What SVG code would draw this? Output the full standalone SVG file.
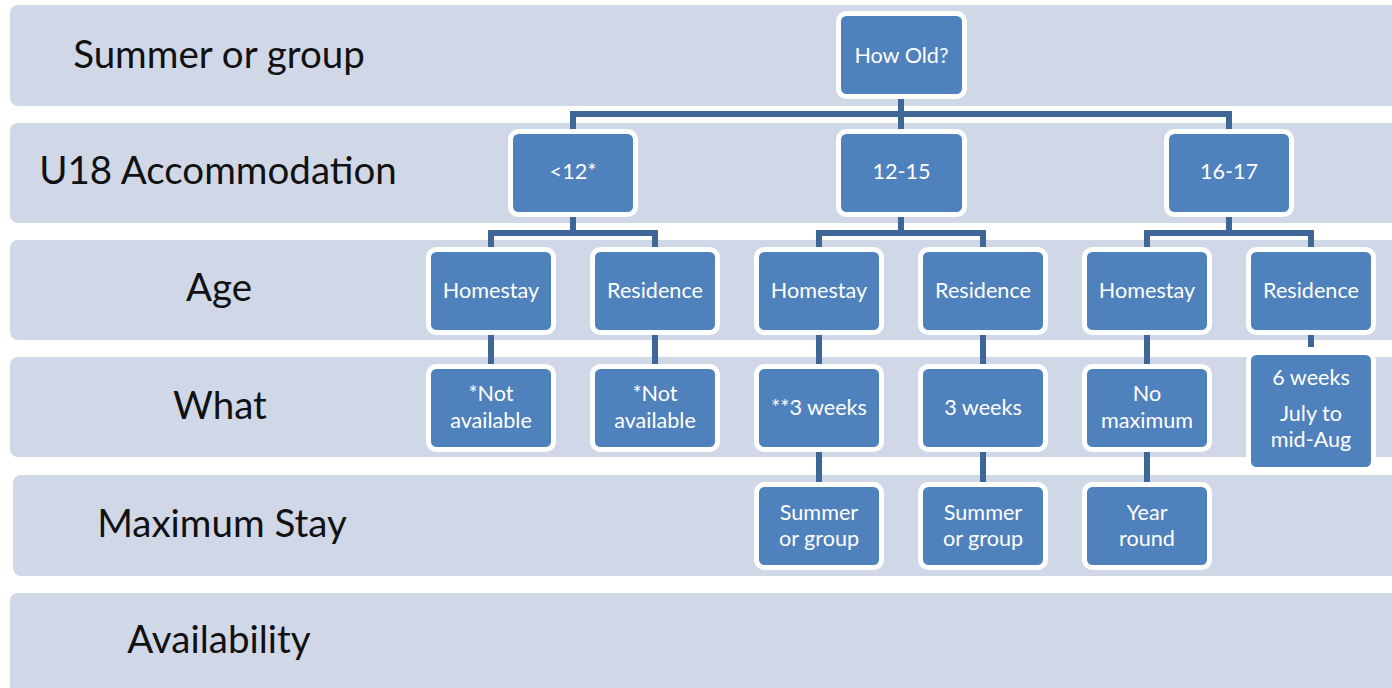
<svg xmlns="http://www.w3.org/2000/svg" width="1392" height="688" viewBox="0 0 1392 688">
<style>
.band{fill:#d0d8e8}
.lbl{font-family:Lato,"Liberation Sans",sans-serif;font-size:38.5px;fill:#111;text-anchor:middle}
.box{fill:#4f81bd;stroke:#fff;stroke-width:5}
.nt{font-family:Lato,"Liberation Sans",sans-serif;font-size:21.6px;fill:#fff;text-anchor:middle}
.con{fill:none;stroke:#3e6797;stroke-width:6;stroke-linejoin:miter}
</style>
<rect width="1392" height="688" fill="#fff"/>
<g id="bands">
<rect class="band" x="10" y="5" width="1400" height="101" rx="8"/>
<rect class="band" x="10" y="123" width="1400" height="100" rx="8"/>
<rect class="band" x="10" y="240" width="1400" height="100" rx="8"/>
<rect class="band" x="10" y="357" width="1400" height="100" rx="8"/>
<rect class="band" x="13" y="475" width="1400" height="101" rx="8"/>
<rect class="band" x="10" y="593" width="1400" height="110" rx="8"/>
</g>
<g id="row-labels">
<text class="lbl" x="219" y="68">Summer or group</text>
<text class="lbl" x="218" y="184">U18 Accommodation</text>
<text class="lbl" x="219" y="301">Age</text>
<text class="lbl" x="220" y="419">What</text>
<text class="lbl" x="222" y="537">Maximum Stay</text>
<text class="lbl" x="219" y="653">Availability</text>
</g>
<g id="connectors">
<path class="con" d="M901 94 V134"/>
<path class="con" d="M573 134 V114 H1229 V134"/>
<path class="con" d="M573 212 V233"/>
<path class="con" d="M491 252 V233 H655 V252"/>
<path class="con" d="M901 212 V233"/>
<path class="con" d="M819 252 V233 H983 V252"/>
<path class="con" d="M1229 212 V233"/>
<path class="con" d="M1147 252 V233 H1311 V252"/>
<path class="con" d="M491 330 V369"/>
<path class="con" d="M655 330 V369"/>
<path class="con" d="M819 330 V369"/>
<path class="con" d="M983 330 V369"/>
<path class="con" d="M1147 330 V369"/>
<path class="con" d="M1311 330 V347"/>
<path class="con" d="M819 447 V487"/>
<path class="con" d="M983 447 V487"/>
<path class="con" d="M1147 447 V487"/>
</g>
<g id="how-old"><rect class="box" x="838.5" y="13.5" width="126" height="83" rx="8"/><text class="nt" x="901.5" y="63">How Old?</text></g>
<g id="lt12"><rect class="box" x="510.5" y="131.5" width="125" height="83" rx="8"/><text class="nt" x="573" y="179">&lt;12*</text></g>
<g id="a12-15"><rect class="box" x="838.5" y="131.5" width="126" height="83" rx="8"/><text class="nt" x="901.5" y="179">12-15</text></g>
<g id="a16-17"><rect class="box" x="1166.5" y="131.5" width="125" height="83" rx="8"/><text class="nt" x="1229" y="179">16-17</text></g>
<g id="homestay1"><rect class="box" x="428.5" y="249.5" width="125" height="83" rx="8"/><text class="nt" x="491" y="298">Homestay</text></g>
<g id="residence1"><rect class="box" x="592.5" y="249.5" width="125" height="83" rx="8"/><text class="nt" x="655" y="298">Residence</text></g>
<g id="homestay2"><rect class="box" x="756.5" y="249.5" width="125" height="83" rx="8"/><text class="nt" x="819" y="298">Homestay</text></g>
<g id="residence2"><rect class="box" x="920.5" y="249.5" width="125" height="83" rx="8"/><text class="nt" x="983" y="298">Residence</text></g>
<g id="homestay3"><rect class="box" x="1084.5" y="249.5" width="125" height="83" rx="8"/><text class="nt" x="1147" y="298">Homestay</text></g>
<g id="residence3"><rect class="box" x="1248.5" y="249.5" width="125" height="83" rx="8"/><text class="nt" x="1311" y="298">Residence</text></g>
<g id="notavail1"><rect class="box" x="428.5" y="366.5" width="125" height="83" rx="8"/><text class="nt" x="491" y="401">*Not</text><text class="nt" x="491" y="428">available</text></g>
<g id="notavail2"><rect class="box" x="592.5" y="366.5" width="125" height="83" rx="8"/><text class="nt" x="655" y="401">*Not</text><text class="nt" x="655" y="428">available</text></g>
<g id="weeks3a"><rect class="box" x="756.5" y="366.5" width="125" height="83" rx="8"/><text class="nt" x="819" y="415">**3 weeks</text></g>
<g id="weeks3b"><rect class="box" x="920.5" y="366.5" width="125" height="83" rx="8"/><text class="nt" x="983" y="415">3 weeks</text></g>
<g id="nomax"><rect class="box" x="1084.5" y="366.5" width="125" height="83" rx="8"/><text class="nt" x="1147" y="401">No</text><text class="nt" x="1147" y="428">maximum</text></g>
<g id="weeks6"><rect class="box" x="1248.5" y="352.5" width="125" height="117" rx="8"/><text class="nt" x="1311" y="385">6 weeks</text><text class="nt" x="1311" y="421">July to</text><text class="nt" x="1311" y="447">mid-Aug</text></g>
<g id="summer1"><rect class="box" x="756.5" y="484.5" width="125" height="83" rx="8"/><text class="nt" x="819" y="520">Summer</text><text class="nt" x="819" y="546">or group</text></g>
<g id="summer2"><rect class="box" x="920.5" y="484.5" width="125" height="83" rx="8"/><text class="nt" x="983" y="520">Summer</text><text class="nt" x="983" y="546">or group</text></g>
<g id="yearround"><rect class="box" x="1084.5" y="484.5" width="125" height="83" rx="8"/><text class="nt" x="1147" y="520">Year</text><text class="nt" x="1147" y="546">round</text></g>
</svg>
